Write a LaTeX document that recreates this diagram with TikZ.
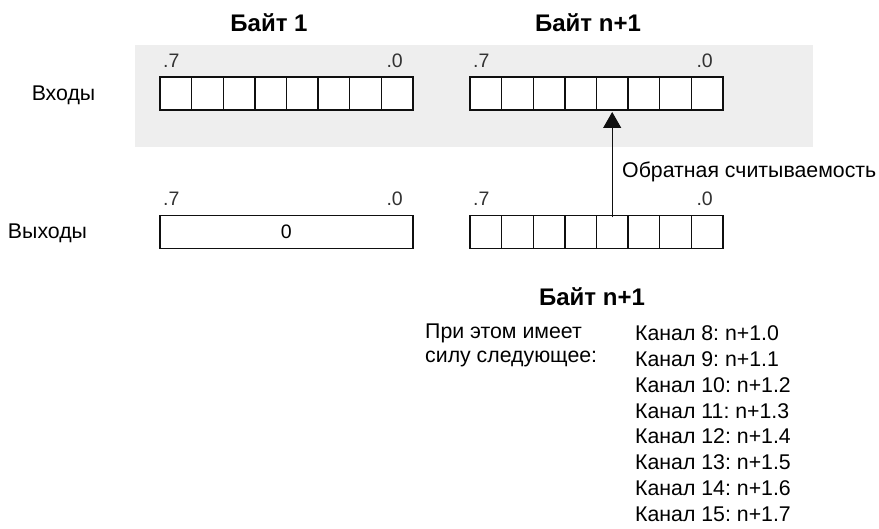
\documentclass[tikz,border=0pt]{standalone}
\usepackage{fontspec}
\setmainfont{Liberation Sans}
\usepackage{xcolor}
\usetikzlibrary{arrows.meta,calc,positioning}
\definecolor{BgGray}{RGB}{238,238,238}
\definecolor{RuleCol}{RGB}{15,15,15}
\definecolor{BitCol}{RGB}{50,50,50}
\frenchspacing
\tikzset{
  bycell/.style={draw=RuleCol, fill=white, line width=1.4pt, minimum width=31.6pt,
    minimum height=33pt, inner sep=0pt, outer sep=0pt},
  bywide/.style={bycell, minimum width=252.8pt, font=\fontsize{19.5}{21}\selectfont},
  bytitle/.style={font=\fontsize{24}{26}\selectfont\bfseries, inner sep=0pt},
  bytxt/.style={font=\fontsize{21.3}{24}\selectfont, inner sep=0pt},
  bybit/.style={font=\fontsize{19.5}{21}\selectfont, text=BitCol, inner sep=0pt},
  byback/.style={-{Triangle[length=16pt,width=18pt]}, line width=1.2pt, draw=RuleCol}
}
% eight cells in a row, named #1-1 ... #1-8
\newcommand{\ByteCells}[3]{%
  \foreach \i in {1,...,8}{%
    \node[bycell] (#1-\i) at ({#2+(\i-0.5)*31.6},#3) {};}
}
\newcommand{\ByteBits}[3]{%
  \node[bybit,anchor=west] (#1-hi) at ({#2+3},{#3-33}) {.7};
  \node[bybit,anchor=east] (#1-lo) at ({#2+243},{#3-33}) {.0};
}

\begin{document}
\begin{tikzpicture}[x=1pt,y=-1pt]
  \useasboundingbox (0,0) rectangle (879,529);
  \fill[BgGray] (135,45) rectangle (813,147);
  \node[bytitle] (t1) at (269,23) {Байт 1};
  \node[bytitle] (t2) at (588,23) {Байт n+1};
  \node[bytxt] (inlab) at (63.5,95) {Входы};
  \node[bytxt] (outlab) at (47.5,233) {Выходы};
  \ByteCells{in1}{160}{93.5}\ByteBits{in1}{160}{93.5}
  \ByteCells{in2}{470}{93.5}\ByteBits{in2}{470}{93.5}
  \node[bywide] (out1) at (286.4,232) {0};
  \ByteBits{out1}{160}{232}
  \ByteCells{out2}{470}{232}\ByteBits{out2}{470}{232}
  \draw[byback] ($(out2-5.north)+(0,2)$) -- ($(in2-5.south)+(0,2)$);
  \node[bytxt,anchor=west] (rb) at (622,172) {Обратная считываемость};
  \node[bytitle] (t3) at (592,297) {Байт n+1};
  \node[bytxt,anchor=west] (note1) at (425,333) {При этом имеет};
  \node[bytxt,anchor=west] (note2) at (425,359) {силу следующее:};
  \foreach \k in {0,...,7}{%
    \pgfmathtruncatemacro{\ch}{8+\k}
    \node[bytxt,anchor=west] (ch\k) at (635,{333+25.9*\k}) {Канал \ch: n+1.\k};}
\end{tikzpicture}
\end{document}
